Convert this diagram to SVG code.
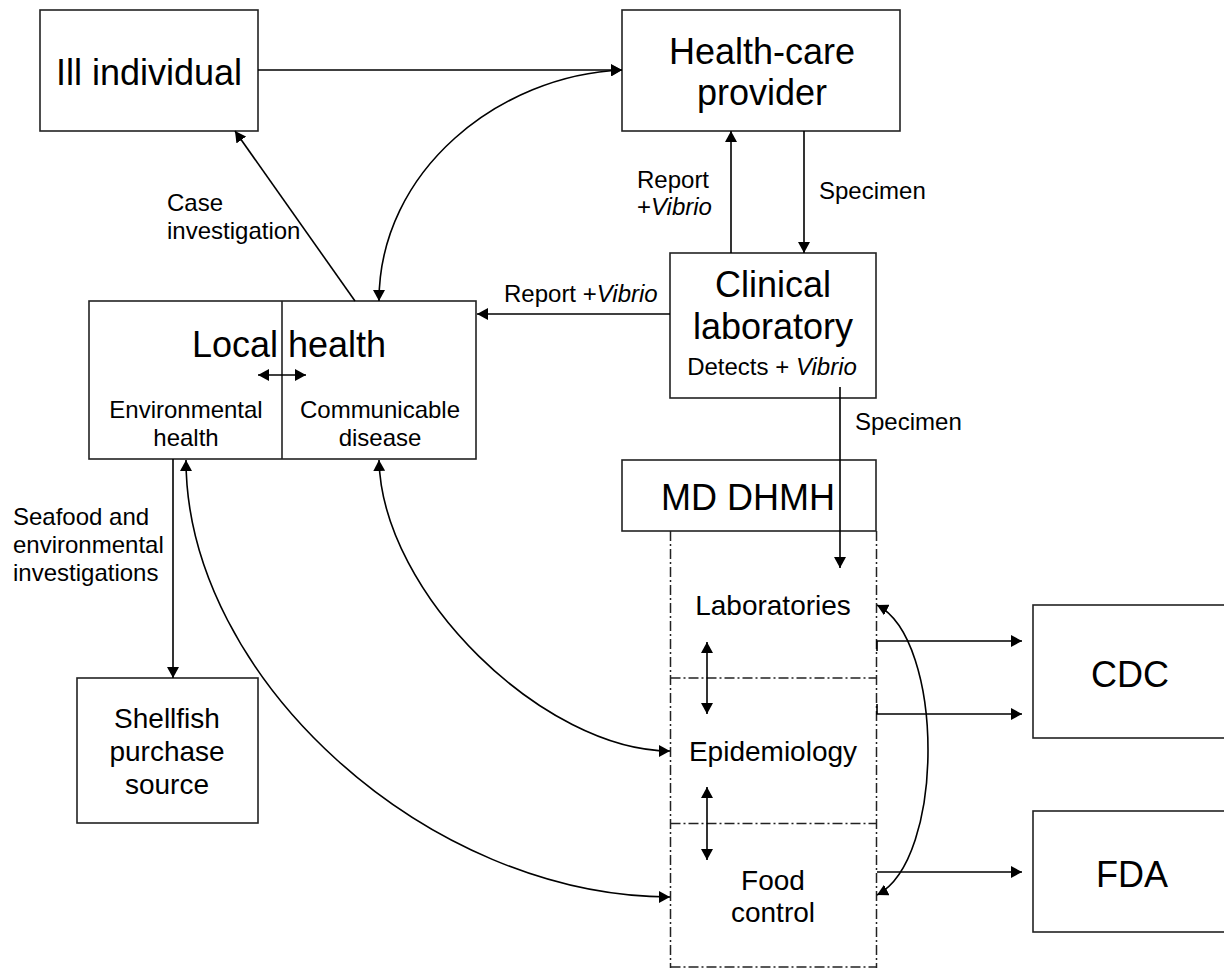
<svg xmlns="http://www.w3.org/2000/svg" width="1224" height="972" viewBox="0 0 1224 972">
<defs>
<style>
.box{fill:#fff;stroke:#222;stroke-width:1.6}
.dd{fill:none;stroke:#222;stroke-width:1.5;stroke-dasharray:10 3 2 3}
.ln{fill:none;stroke:#000;stroke-width:1.6}
.a{marker-end:url(#ah)}
.aa{marker-start:url(#ah);marker-end:url(#ah)}
text{font-family:"Liberation Sans",Arial,sans-serif;fill:#000}
.big{font-size:36px;text-anchor:middle}
.mid{font-size:28px;text-anchor:middle}
.sm{font-size:24px}
.smc{font-size:24px;text-anchor:middle}
.it{font-style:italic}
</style>
<marker id="ah" viewBox="0 0 11 12" refX="11" refY="6" markerWidth="11" markerHeight="12" markerUnits="userSpaceOnUse" orient="auto-start-reverse">
<path d="M0,0 L11,6 L0,12 z" fill="#000"/>
</marker>
</defs>
<rect width="1224" height="972" fill="#fff"/>

<g id="ill-individual">
<rect class="box" x="40" y="10" width="218" height="121"/>
<text class="big" x="149" y="85">Ill individual</text>
</g>

<g id="health-care-provider">
<rect class="box" x="622" y="10" width="278" height="121"/>
<text class="big" x="762" y="64">Health-care</text>
<text class="big" x="762" y="105">provider</text>
</g>

<g id="clinical-laboratory">
<rect class="box" x="670" y="253" width="206" height="145"/>
<text class="big" x="773" y="297">Clinical</text>
<text class="big" x="773" y="339">laboratory</text>
<text class="smc" x="772" y="375">Detects + <tspan class="it">Vibrio</tspan></text>
</g>

<g id="local-health">
<rect class="box" x="89" y="301" width="387" height="158"/>
<line class="ln" x1="282" y1="301" x2="282" y2="459" style="stroke:#222"/>
<text class="big" x="289" y="357">Local health</text>
<text class="smc" x="186" y="418">Environmental</text>
<text class="smc" x="186" y="446">health</text>
<text class="smc" x="380" y="418">Communicable</text>
<text class="smc" x="380" y="446">disease</text>
</g>

<g id="shellfish-purchase-source">
<rect class="box" x="77" y="678" width="181" height="145"/>
<text class="mid" x="167" y="728">Shellfish</text>
<text class="mid" x="167" y="761">purchase</text>
<text class="mid" x="167" y="794">source</text>
</g>

<g id="md-dhmh">
<rect class="box" x="622" y="460" width="254" height="71"/>
<text class="big" x="748" y="510">MD DHMH</text>
<path class="dd" d="M670.5,531 V968 M876.5,531 V968 M670.5,967 H876.5"/>
</g>

<g id="laboratories">
<text class="mid" x="773" y="615">Laboratories</text>
</g>

<g id="epidemiology">
<path class="dd" d="M670.5,678 H876.5"/>
<text class="mid" x="773" y="761">Epidemiology</text>
</g>

<g id="food-control">
<path class="dd" d="M670.5,823.5 H876.5"/>
<text class="mid" x="773" y="890">Food</text>
<text class="mid" x="773" y="922">control</text>
</g>

<g id="cdc">
<rect class="box" x="1033" y="605" width="200" height="133"/>
<text class="big" x="1130" y="687">CDC</text>
</g>

<g id="fda">
<rect class="box" x="1033" y="811" width="200" height="121"/>
<text class="big" x="1132" y="887">FDA</text>
</g>

<g id="connectors">
<path class="ln a" d="M258,70 H622"/>
<path class="ln aa" d="M622,70 C500,75 379,170 379,301"/>
<path class="ln a" d="M355,301 L235,131"/>
<path class="ln a" d="M731,253 V131"/>
<path class="ln a" d="M804,131 V253"/>
<path class="ln a" d="M670,314 H477"/>
<path class="ln a" d="M840,387 V568"/>
<path class="ln aa" d="M258,375 H306"/>
<path class="ln a" d="M173,459 V678"/>
<path class="ln aa" d="M186,460 C186,678 428,897 670,897"/>
<path class="ln aa" d="M379,460 C382,595 545,751 670,751"/>
<path class="ln aa" d="M707,642 V714"/>
<path class="ln aa" d="M707,787 V860"/>
<path class="ln a" d="M877,651 V641 H1022"/>
<path class="ln a" d="M877,704 V714 H1022"/>
<path class="ln a" d="M877,872 H1022"/>
<path class="ln aa" d="M877,605 C945,640 945,860 877,895"/>
</g>

<g id="labels">
<text class="sm" x="167" y="211">Case</text>
<text class="sm" x="167" y="239">investigation</text>
<text class="sm" x="637" y="188">Report</text>
<text class="sm" x="637" y="215">+<tspan class="it">Vibrio</tspan></text>
<text class="sm" x="819" y="199">Specimen</text>
<text class="sm" x="504" y="302">Report +<tspan class="it">Vibrio</tspan></text>
<text class="sm" x="855" y="430">Specimen</text>
<text class="sm" x="13" y="525">Seafood and</text>
<text class="sm" x="13" y="553">environmental</text>
<text class="sm" x="13" y="581">investigations</text>
</g>
</svg>
